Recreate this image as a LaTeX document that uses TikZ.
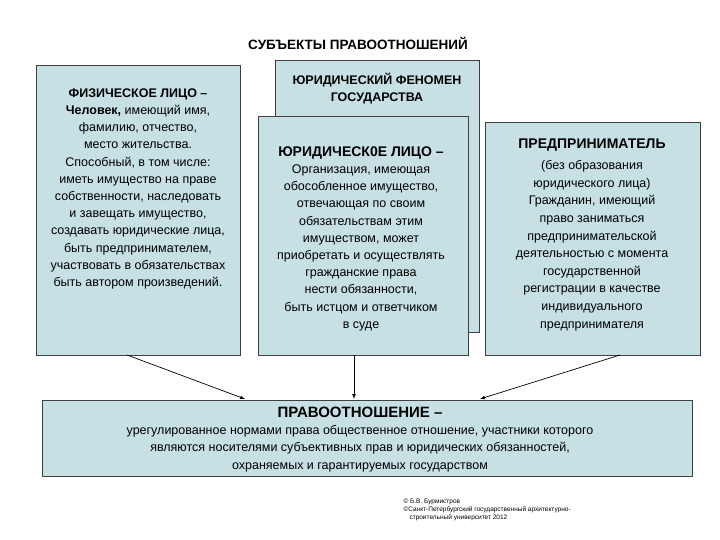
\documentclass[tikz,border=0pt]{standalone}
\usepackage{fontspec}
\setmainfont{Liberation Sans}
\begin{document}
\begin{tikzpicture}[x=1pt,y=-1pt,
  bx/.style={draw=black!75,fill=boxc,line width=0.8pt},
  tx/.style={align=center,font=\fontsize{12.5}{17.2}\selectfont},
  arr/.style={-latex,line width=0.7pt}]
\definecolor{boxc}{RGB}{199,224,228}
\useasboundingbox (0,0) rectangle (720,540);
\node[font=\fontsize{13.5}{16}\selectfont\bfseries] (title) at (358,43) {СУБЪЕКТЫ ПРАВООТНОШЕНИЙ};
\draw[bx] (36,65) rectangle (240,355);
\coordinate (fiz) at (127,355);
\node[tx,anchor=north] (fizt) at (138,85) {\textbf{ФИЗИЧЕСКОЕ ЛИЦО –}\\\textbf{Человек,} имеющий имя,\\фамилию, отчество,\\место жительства.\\Способный, в том числе:\\иметь имущество на праве\\собственности, наследовать\\и завещать имущество,\\создавать юридические лица,\\быть предпринимателем,\\участвовать в обязательствах\\быть автором произведений.};
\draw[bx] (275,60) rectangle (479,332);
\node[tx,anchor=north,font=\fontsize{12.5}{17}\selectfont] (fen) at (377,70) {\textbf{ЮРИДИЧЕСКИЙ ФЕНОМЕН}\\\textbf{ГОСУДАРСТВА}};
\draw[bx] (258,116) rectangle (468,355);
\coordinate (jur) at (354,355);
\node[tx,anchor=north] (jurt) at (361,143) {\textbf{\fontsize{14}{17}\selectfont ЮРИДИЧЕСК0Е ЛИЦО –}\\Организация, имеющая\\обособленное имущество,\\отвечающая по своим\\обязательствам этим\\имуществом, может\\приобретать и осуществлять\\гражданские права\\нести обязанности,\\быть истцом и ответчиком\\в суде};
\draw[bx] (485,122) rectangle (700,355);
\coordinate (pre) at (620,355);
\node[tx,anchor=north,font=\fontsize{12.5}{17.6}\selectfont] (pret) at (592,135) {\textbf{\fontsize{14}{17}\selectfont ПРЕДПРИНИМАТЕЛЬ}\\[4pt](без образования\\юридического лица)\\Гражданин, имеющий\\право заниматься\\предпринимательской\\деятельностью с момента\\государственной\\регистрации в качестве\\индивидуального\\предпринимателя};
\draw[bx] (42,400) rectangle (692,476);
\coordinate (b1) at (245,399);
\coordinate (b2) at (354,399);
\coordinate (b3) at (480,399);
\node[tx,anchor=north,font=\fontsize{12.5}{17.4}\selectfont] (prav) at (360,403) {\textbf{\fontsize{15}{18}\selectfont ПРАВООТНОШЕНИЕ –}\\урегулированное нормами права общественное отношение, участники которого\\являются носителями субъективных прав и юридических обязанностей,\\охраняемых и гарантируемых государством};
\draw[arr] (fiz) -- (b1);
\draw[arr] (jur) -- (b2);
\draw[arr] (pre) -- (b3);
\node[anchor=north west,align=left,font=\fontsize{6.5}{8}\selectfont] (copy) at (400,495) {© Б.В. Бурмистров\\©Санкт-Петербургский государственный архитектурно-\\\hspace*{6pt}строительный университет 2012};
\end{tikzpicture}
\end{document}
